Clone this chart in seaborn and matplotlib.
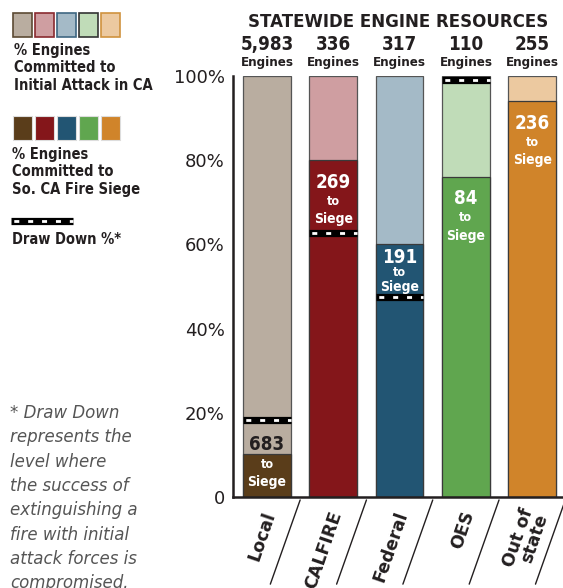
import matplotlib
matplotlib.use("Agg")
import matplotlib.pyplot as plt
import seaborn as sns
from matplotlib.patches import Rectangle
import matplotlib.transforms as mtransforms

agencies = ["Local", "CALFIRE", "Federal", "OES", "Out of\nstate"]
total_engines = ["5,983", "336", "317", "110", "255"]
siege_engines = ["683", "269", "191", "84", "236"]
siege_pct = [10.2, 80.0, 60.0, 76.0, 94.0]
drawdown_pct = [18.3, 62.6, 47.5, 99.0, 0]
has_drawdown = [True, True, True, True, False]
light_colors = ["#b9ada0", "#cf9ea1", "#a4bac7", "#c0dcb8", "#ecc9a0"]
dark_colors = ["#5a3d1a", "#84161a", "#225573", "#60a64f", "#d0842a"]
light_edges = ["#5c4a33", "#8a2a30", "#3e6782", "#333333", "#d0923e"]
ytick_vals = [0, 20, 40, 60, 80, 100]
ytick_labels = ["0", "20%", "40%", "60%", "80%", "100%"]
footnote = ["* Draw Down", "represents the", "level where", "the success of",
            "extinguishing a", "fire with initial", "attack forces is", "compromised."]

sns.set_style("white")
plt.rcParams['font.family'] = ["DejaVu Sans"]
ink = "#231f20"
nf = dict(family=["DejaVu Sans"], fontstretch="condensed", fontweight="bold")

fig = plt.figure(figsize=(5.63, 5.88), dpi=100)
lax = fig.add_axes([0, 0, 1, 1], zorder=-1)
lax.set_xlim(0, 563)
lax.set_ylim(588, 0)
lax.axis("off")

ax = fig.add_axes([233 / 563, 1 - 497 / 588, 330 / 563, 421 / 588])
full = [100] * len(agencies)
sns.barplot(x=agencies, y=full, hue=agencies, palette=light_colors, legend=False,
            width=0.72, edgecolor="#555555", linewidth=0.9, saturation=1, ax=ax)
sns.barplot(x=agencies, y=siege_pct, hue=agencies, palette=dark_colors, legend=False,
            width=0.72, edgecolor="#3a3a3a", linewidth=0.9, saturation=1, ax=ax)

ax.set_xlim(-0.513, 4.465)
ax.set_ylim(0, 100)
ax.set_xlabel("")
ax.set_ylabel("")
for s in ["top", "right"]:
    ax.spines[s].set_visible(False)
for s in ["left", "bottom"]:
    ax.spines[s].set_linewidth(1.8)
    ax.spines[s].set_color(ink)
ax.set_yticks(ytick_vals)
ax.set_yticklabels(ytick_labels)
ax.tick_params(axis="y", direction="in", length=7, width=1.8, color=ink,
               labelsize=13, labelcolor=ink, pad=6)
ax.set_xticks([i + 0.5 for i in range(len(agencies) - 1)])
ax.set_xticklabels([])
ax.tick_params(axis="x", direction="in", length=7, width=1.8, color=ink)

# draw down markers
bw = 0.72
for i, (d, h) in enumerate(zip(drawdown_pct, has_drawdown)):
    if not h:
        continue
    ax.plot([i - bw / 2, i + bw / 2], [d, d], color="black", lw=5.2,
            solid_capstyle="butt", clip_on=False, zorder=5)
    ax.plot([i - bw / 2, i + bw / 2], [d, d], color="white", lw=2,
            linestyle=(4, (1.8, 3.2)), clip_on=False, zorder=6)

# labels inside bars
for i, (num, top) in enumerate(zip(siege_engines, siege_pct)):
    if i == 0:
        ys = (top + 2.2, top - 2.4, top - 6.6)
        c0 = ink
    elif i == 2:
        ys = (top - 3.0, top - 6.6, top - 10.1)
        c0 = "white"
    else:
        ys = (top - 5.2, top - 9.7, top - 14.0)
        c0 = "white"
    ax.text(i, ys[0], num, ha="center", va="center", color=c0, fontsize=13.5, zorder=7, **nf)
    ax.text(i, ys[1], "to", ha="center", va="center", color="white", fontsize=9, zorder=7, **nf)
    ax.text(i, ys[2], "Siege", ha="center", va="center", color="white", fontsize=10, zorder=7, **nf)

# counts above bars
for i, t in enumerate(total_engines):
    ax.text(i, 107.6, t, ha="center", va="center", color=ink, fontsize=13.5,
            clip_on=False, **nf)
    ax.text(i, 103.1, "Engines", ha="center", va="center", color=ink, fontsize=9.5,
            clip_on=False, **nf)

fig.text(398 / 563, 1 - 22 / 588, "STATEWIDE ENGINE RESOURCES", ha="center", va="center",
         fontsize=12, fontweight="bold", color=ink)

# category labels and slanted separators
blend = mtransforms.blended_transform_factory(ax.transData, ax.transAxes)
for i, name in enumerate(agencies):
    ax.text(i + 0.05, -0.035, name, transform=blend, rotation=71, rotation_mode="anchor",
            ha="right", va="center", fontsize=12.5, fontweight="bold", color=ink,
            linespacing=0.8, clip_on=False)
    ax.plot([i + 0.5, i + 0.05], [-0.007, -0.207], transform=blend, color=ink,
            lw=1.0, clip_on=False)

# legend panel
for i, (c, e) in enumerate(zip(light_colors, light_edges)):
    lax.add_patch(Rectangle((13 + 22 * i, 13), 19, 24, facecolor=c, edgecolor=e, lw=1.2))
for i, c in enumerate(dark_colors):
    lax.add_patch(Rectangle((13 + 22 * i, 116), 19, 24, facecolor=c, edgecolor="#dddddd", lw=0.8))
lax.text(14, 68, "% Engines\nCommitted to\nInitial Attack in CA", ha="left", va="center",
         fontsize=10.5, color=ink, linespacing=1.2, **nf)
lax.text(12, 172, "% Engines\nCommitted to\nSo. CA Fire Siege", ha="left", va="center",
         fontsize=10.5, color=ink, linespacing=1.2, **nf)
lax.plot([11, 73], [221, 221], color="black", lw=5.2, solid_capstyle="butt")
lax.plot([11, 73], [221, 221], color="white", lw=2, linestyle=(4, (1.8, 3.2)))
lax.text(12, 240, "Draw Down %*", ha="left", va="center", fontsize=10.5, color=ink, **nf)

for k, line in enumerate(footnote):
    lax.text(10, 413 + 24.3 * k, line, ha="left", va="center", fontsize=12,
             fontstyle="italic", color="#555555")

fig.savefig("out.png", dpi=100)
